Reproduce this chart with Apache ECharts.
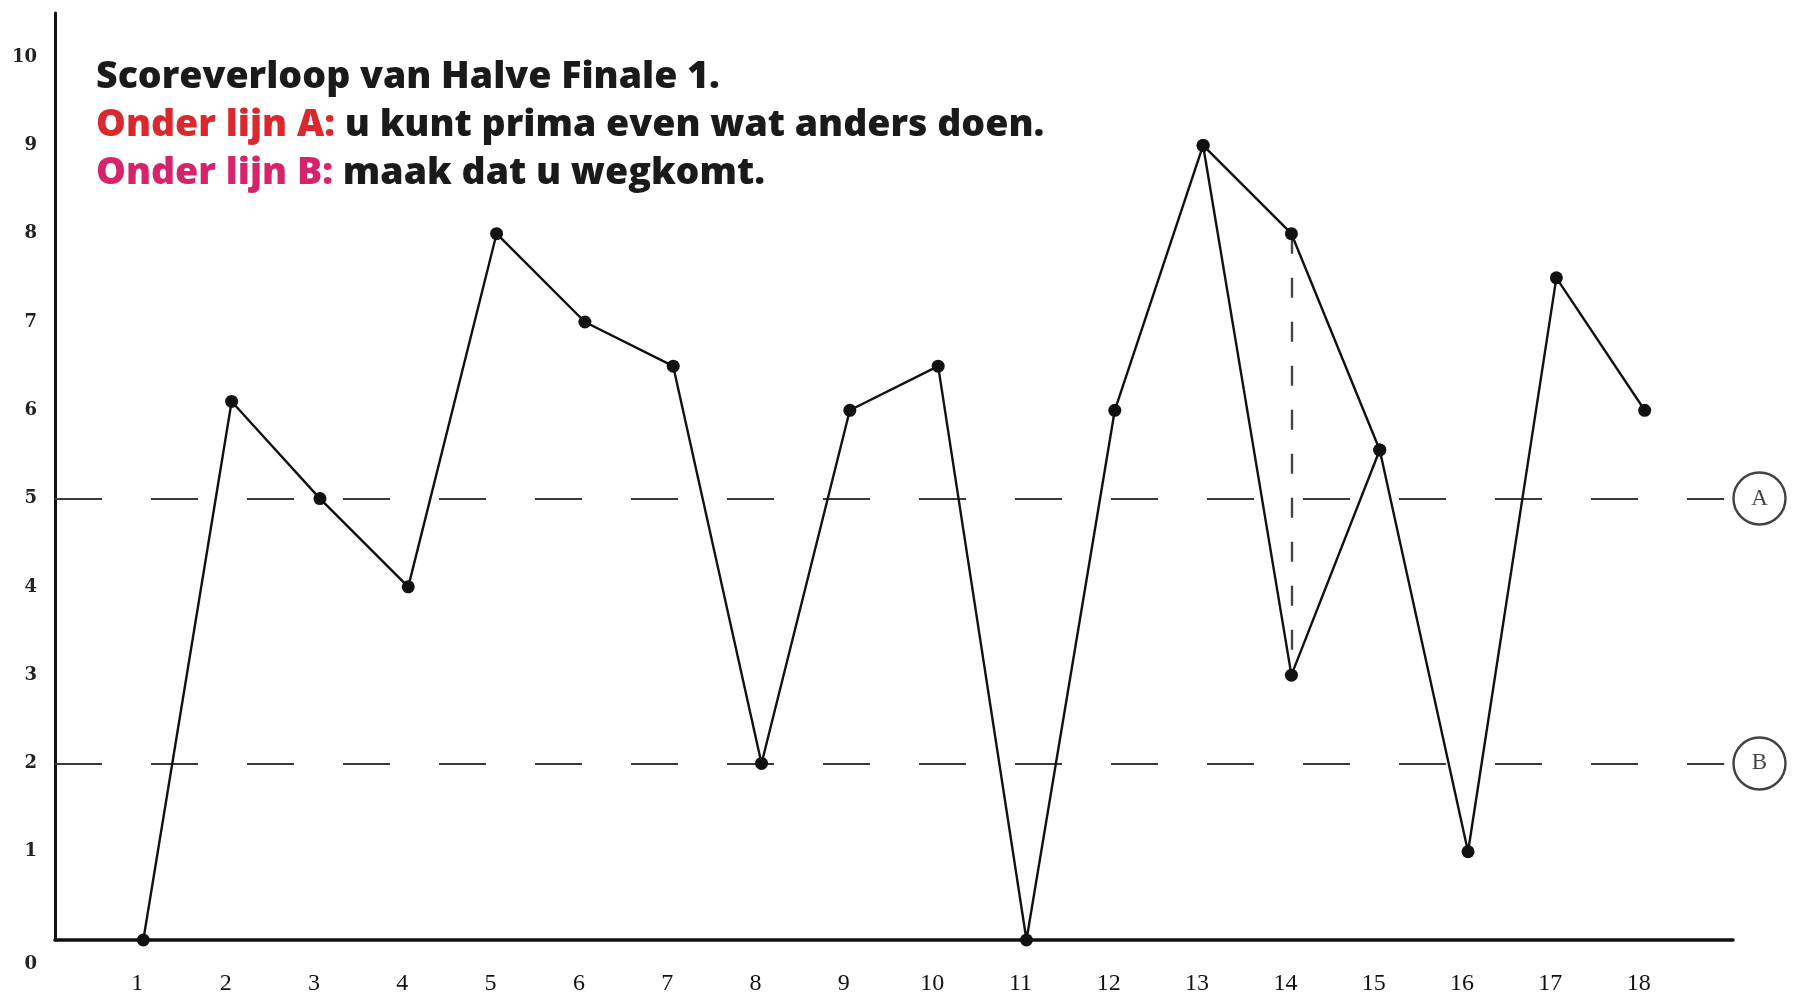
<!DOCTYPE html>
<html>
<head>
<meta charset="utf-8">
<script src="https://cdn.jsdelivr.net/npm/echarts@6/dist/echarts.min.js"></script>
<style>
  html, body { margin: 0; padding: 0; background: #ffffff; }
  #chart { width: 1800px; height: 1002px; }
</style>
</head>
<body>
<div id="chart"></div>
<script>
// ---- data ----
const rounds = [1, 2, 3, 4, 5, 6, 7, 8, 9, 10, 11, 12, 13, 14, 15, 16, 17, 18];
const scores = [0, 6.1, 5, 4, 8, 7, 6.5, 2, 6, 6.5, 0, 6, 9, 8, 5.55, 1, 7.5, 6];
const altRounds = [13, 14, 15];
const altScores = [9, 3, 5.55];
const thresholdNames = ['A', 'B'];
const thresholdValues = [5, 2];
const yTickLabels = [0, 1, 2, 3, 4, 5, 6, 7, 8, 9, 10];
const xTickLabels = rounds;
const titleLines = ['Scoreverloop van Halve Finale 1.'];
const noteA = ['Onder lijn A: ', 'u kunt prima even wat anders doen.'];
const noteB = ['Onder lijn B: ', 'maak dat u wegkomt.'];

const chart = echarts.init(document.getElementById('chart'), null, { renderer: 'canvas' });

const ink = '#111111';
const mainData = rounds.map((r, i) => [r, scores[i]]);
const altData = altRounds.map((r, i) => [r, altScores[i]]);
const circleX = 19.3;
const lineEndX = 18.9;
const titleFont = { fontFamily: 'Open Sans', fontWeight: 800, fontSize: 37.5, lineHeight: 48 };

const option = {
  backgroundColor: '#ffffff',
  animation: false,
  title: {
    left: 91,
    top: 48,
    text: '{t|' + titleLines[0] + '}\n{a|' + noteA[0] + '}{t|' + noteA[1] + '}\n{b|' + noteB[0] + '}{t|' + noteB[1] + '}',
    textStyle: Object.assign({}, titleFont, {
      rich: {
        t: Object.assign({ color: '#1a1a1a' }, titleFont),
        a: Object.assign({ color: '#d9292f' }, titleFont),
        b: Object.assign({ color: '#d6246c' }, titleFont)
      }
    })
  },
  grid: { left: 55, right: 67, top: 13, bottom: 62, containLabel: false },
  xAxis: {
    type: 'value',
    min: 0,
    max: 19,
    interval: 1,
    axisLine: { show: true, onZero: false, lineStyle: { color: ink, width: 3.5 } },
    axisTick: { show: false },
    splitLine: { show: false },
    axisLabel: {
      margin: 32,
      fontFamily: 'Liberation Serif',
      fontSize: 24,
      color: '#111',
      padding: [0, 12, 0, 0],
      showMinLabel: true,
      showMaxLabel: true,
      formatter: function (v) { return xTickLabels.indexOf(v) >= 0 ? String(v) : ''; }
    }
  },
  yAxis: {
    type: 'value',
    min: 0,
    max: 10.5,
    interval: 1,
    axisLine: { show: true, onZero: false, lineStyle: { color: ink, width: 3 } },
    axisTick: { show: false },
    splitLine: { show: false },
    axisLabel: {
      margin: 18,
      fontFamily: 'DejaVu Serif',
      fontWeight: 'bold',
      fontSize: 18,
      color: '#222',
      showMaxLabel: false,
      formatter: function (v) {
        if (yTickLabels.indexOf(v) < 0) return '';
        return v === 0 ? '{z|0}' : String(v);
      },
      rich: {
        z: { fontFamily: 'DejaVu Serif', fontWeight: 'bold', fontSize: 18, color: '#222', padding: [48, 0, 0, 0] }
      }
    }
  },
  series: [
    {
      name: 'Score',
      type: 'line',
      data: mainData,
      symbol: 'circle',
      symbolSize: 13,
      showAllSymbol: true,
      lineStyle: { color: ink, width: 2.4 },
      itemStyle: { color: ink },
      z: 5,
      markLine: {
        silent: true,
        symbol: ['none', 'none'],
        label: { show: false },
        data: thresholdValues.map(v => [
          { coord: [0, v], lineStyle: { color: '#3a3a3a', width: 2, type: [47, 49] } },
          { coord: [lineEndX, v] }
        ]).concat([[
          { coord: [14, 8], lineStyle: { color: '#444', width: 2.4, type: [20, 24] } },
          { coord: [14, 3] }
        ]])
      }
    },
    {
      name: 'Score (alternatief)',
      type: 'line',
      data: altData,
      symbol: 'circle',
      symbolSize: 13,
      showAllSymbol: true,
      lineStyle: { color: ink, width: 2.4 },
      itemStyle: { color: ink },
      z: 5
    },
    {
      name: 'Lijnen',
      type: 'scatter',
      clip: false,
      data: thresholdValues.map((v, i) => ({ value: [circleX, v], name: thresholdNames[i] })),
      symbol: 'circle',
      symbolSize: 52,
      itemStyle: { color: '#ffffff', borderColor: '#111', borderWidth: 2.4 },
      label: {
        show: true,
        position: 'inside',
        formatter: function (p) { return p.name; },
        fontFamily: 'Liberation Serif',
        fontSize: 23,
        color: '#111'
      },
      z: 6
    }
  ]
};

chart.setOption(option);
</script>
</body>
</html>
